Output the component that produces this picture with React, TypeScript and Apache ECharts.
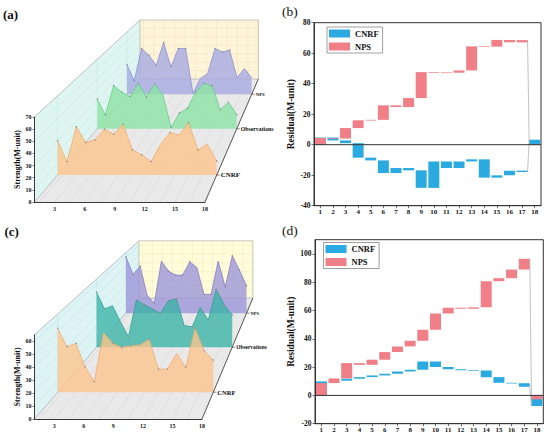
import React, { useEffect, useRef } from "react";
import * as echarts from "echarts";

const FONT = "'Liberation Serif', 'Times New Roman', serif";

// ---------- data ----------
const steps = [1, 2, 3, 4, 5, 6, 7, 8, 9, 10, 11, 12, 13, 14, 15, 16, 17, 18];
const depthLabels = ["CNRF", "Observations", "NPS"];
const ticks3D = [3, 6, 9, 12, 15, 18];
const yTicksA = [0, 10, 20, 30, 40, 50, 60, 70];
const yTicksC = [0, 10, 20, 30, 40, 50, 60];

// panel (a) strengths
const aCNRF = [30.4, 11.9, 42.8, 28.7, 31, 40.5, 36, 44.9, 22.2, 17.8, 11.9, 27.2, 37.5, 35.4, 46.3, 22.2, 27.2, 12.5];
const aObs = [29.9, 14.1, 43.5, 36.9, 32.5, 45.9, 32.2, 45.2, 34.2, 1.5, 15.8, 20.7, 37.2, 45.9, 43.4, 19.2, 26.7, 14.4];
const aNPS = [33.5, 15.1, 51.5, 43.9, 32.7, 58.2, 30.8, 51.5, 51.5, 1, 17.8, 23.4, 51.5, 47.6, 49.6, 18.5, 29, 18.5];

// panel (c) strengths
const cCNRF = [53.1, 37.8, 40.6, 21.1, 8.6, 49.4, 40.6, 37.2, 38.6, 39.2, 43.9, 19.2, 19.2, 32.2, 20.6, 53.1, 34.4, 26.7];
const cObs = [52.4, 36.5, 39.6, 24.3, 10, 45, 40.3, 36.5, 32.3, 44.1, 46, 20.5, 19.6, 37.7, 26, 55.2, 40.3, 30.7];
const cNPS = [60.4, 41.5, 50.4, 19.3, 10.4, 55.8, 45.1, 40.8, 40.8, 55, 49, 20.1, 20.1, 55.8, 28.2, 61.5, 46.1, 29.3];

// panel (b) cumulative residuals (steps 1..17) and step-18 totals
const bCNRF = [4.7, 2.8, 1.0, -8.5, -10.3, -18.6, -15.3, -16.8, -28.3, -11.0, -15.3, -11.0, -9.6, -21.6, -20.1, -17.0, -17.9];
const bCNRFTotal = 3.3;
const bNPS = [4.4, 4.0, 10.9, 16.0, 16.3, 25.8, 24.7, 30.6, 47.6, 47.4, 47.2, 48.7, 64.5, 64.3, 68.7, 67.1, 68.6];
const bNPSTotal = 0.2;

// panel (d)
const dCNRF = [9.9, 10.4, 11.8, 12.9, 14.1, 15.3, 16.9, 18.1, 24.0, 20.0, 18.4, 17.8, 17.5, 12.9, 8.9, 8.6, 6.1];
const dCNRFTotal = -7.5;
const dNPS = [8.7, 12.0, 22.8, 21.6, 25.2, 30.6, 34.6, 38.6, 46.4, 57.9, 61.9, 61.2, 62.2, 80.7, 82.8, 88.9, 96.5];
const dNPSTotal = -2.8;

const BLUE = "#2BA9E1";
const RED = "#F07F88";

// ---------- layout of the pseudo-3D panels ----------
const panelA = {
  yMax: 70,
  yTicks: yTicksA,
  vx: 344.8,
  vy: -402,
  kBack: 0.306,
  kLayers: [0.067, 0.182, 0.268],
  series: [aCNRF, aObs, aNPS],
  colors: ["#FDC48C", "#8CE4A5", "#A6AAE2"],
  lineColors: ["#EEA868", "#5DC983", "#8489CF"],
  wall: "#DFF5F1",
  wallGrid: "#BFE6DF",
  back: "#FFF4D8",
  backGrid: "#EEE0BC",
  labelSizes: [7, 5.8, 4.8],
  opacity: 0.8,
};
const panelC = {
  yMax: 65,
  yTicks: yTicksC,
  vx: 326.5,
  vy: -378,
  kBack: 0.32,
  kLayers: [0.071, 0.19, 0.28],
  series: [cCNRF, cObs, cNPS],
  colors: ["#FDC48C", "#3AB3A6", "#9A93D8"],
  lineColors: ["#EEA868", "#2A9C90", "#7C74C4"],
  wall: "#DDF3F4",
  wallGrid: "#BCE3E6",
  back: "#FFFCD9",
  backGrid: "#EEEBBE",
  labelSizes: [6.6, 5.4, 4.5],
  opacity: 0.78,
};

function render3D(api: any, cfg: any) {
  const x0 = steps[0];
  const x1 = steps[steps.length - 1];
  const c = (x: number, y: number) => api.coord([x, y]);
  const f0 = c(x0, 0);
  const f1 = c(x1, 0);
  const t0 = c(x0, cfg.yMax);
  const t1 = c(x1, cfg.yMax);
  const V = [f0[0] + cfg.vx, f0[1] + cfg.vy];
  const P = (p: number[], k: number) => [p[0] + (V[0] - p[0]) * k, p[1] + (V[1] - p[1]) * k];
  const kb = cfg.kBack;
  const ch: any[] = [];
  const poly = (pts: number[][], fill: string) => ({ type: "polygon", shape: { points: pts }, style: { fill } });
  const seg = (a: number[], b: number[], stroke: string, w: number) => ({
    type: "line",
    shape: { x1: a[0], y1: a[1], x2: b[0], y2: b[1] },
    style: { stroke, lineWidth: w },
  });

  ch.push(poly([f0, f1, P(f1, kb), P(f0, kb)], "#E9E9E9"));
  ch.push(poly([f0, t0, P(t0, kb), P(f0, kb)], cfg.wall));
  ch.push(poly([P(f0, kb), P(f1, kb), P(t1, kb), P(t0, kb)], cfg.back));

  const gx: number[] = [];
  ticks3D.forEach((t) => {
    gx.push(t - 1.5);
    gx.push(t);
  });
  gx.forEach((x) => {
    if (x <= x0 || x > x1) return;
    const p = c(x, 0);
    const q = c(x, cfg.yMax);
    ch.push(seg(p, P(p, kb), "#D3D3D3", 0.5));
    ch.push(seg(P(p, kb), P(q, kb), cfg.backGrid, 0.5));
  });
  cfg.yTicks.forEach((y: number) => {
    if (y <= 0 || y >= cfg.yMax) return;
    const p = c(x0, y);
    const q = c(x1, y);
    ch.push(seg(p, P(p, kb), cfg.wallGrid, 0.5));
    ch.push(seg(P(p, kb), P(q, kb), cfg.backGrid, 0.5));
  });
  cfg.kLayers.forEach((k: number) => ch.push(seg(P(f0, k), P(t0, k), cfg.wallGrid, 0.5)));

  ch.push(seg(t0, P(t0, kb), "#9C9C9C", 0.6));
  ch.push(seg(f0, P(f0, kb), "#9C9C9C", 0.6));
  ch.push({
    type: "polygon",
    shape: { points: [P(f0, kb), P(f1, kb), P(t1, kb), P(t0, kb)] },
    style: { fill: "none", stroke: "#A8A8A8", lineWidth: 0.6 },
  });

  for (let j = cfg.series.length - 1; j >= 0; j--) {
    const k = cfg.kLayers[j];
    const vals = cfg.series[j];
    const top = steps.map((s, i) => P(c(s, vals[i]), k));
    ch.push({
      type: "polygon",
      shape: { points: [...top, P(f1, k), P(f0, k)] },
      style: { fill: cfg.colors[j], opacity: cfg.opacity },
    });
    ch.push({
      type: "polyline",
      shape: { points: top },
      style: { stroke: cfg.lineColors[j], lineWidth: 0.7, fill: "none" },
    });
    top.forEach((p) =>
      ch.push({ type: "circle", shape: { cx: p[0], cy: p[1], r: 0.7 }, style: { fill: "#8C8C8C" } })
    );
  }

  ch.push(seg(f1, P(f1, kb), "#333", 0.8));
  cfg.kLayers.forEach((k: number, j: number) => {
    const p = P(f1, k);
    ch.push(seg(p, [p[0] + 3, p[1]], "#333", 0.6));
    ch.push({
      type: "text",
      x: p[0] + 4,
      y: p[1],
      style: {
        text: depthLabels[j],
        fontSize: cfg.labelSizes[j],
        fontFamily: FONT,
        fontWeight: "bold",
        fill: "#111",
        align: "left",
        verticalAlign: "middle",
      },
    });
  });
  return { type: "group", children: ch };
}

function waterfallSeries(name: string, color: string, cum: number[], total: number, idx: number, zeroLine: boolean) {
  const data: number[][] = [];
  let prev = 0;
  cum.forEach((v, i) => {
    data.push([i, prev, v]);
    prev = v;
  });
  data.push([cum.length, 0, total]);
  const last = data.length - 1;
  return {
    type: "custom",
    name,
    xAxisIndex: idx,
    yAxisIndex: idx,
    itemStyle: { color },
    encode: { x: 0, y: [1, 2] },
    data,
    z: zeroLine ? 4 : 3,
    renderItem: (params: any, api: any) => {
      const i = api.value(0);
      const a = api.coord([i, api.value(1)]);
      const b = api.coord([i, api.value(2)]);
      const bw = api.size([1, 0])[0] * 0.87;
      const y = Math.min(a[1], b[1]);
      const h = Math.max(Math.abs(a[1] - b[1]), 0.7);
      const children: any[] = [
        { type: "rect", shape: { x: a[0] - bw / 2, y, width: bw, height: h }, style: { fill: color } },
      ];
      if (params.dataIndex === last) {
        const p = api.coord([i - 1, cum[cum.length - 1]]);
        const q = api.coord([i, total]);
        children.push({
          type: "line",
          shape: { x1: p[0] + bw / 2, y1: p[1], x2: q[0] - bw / 2, y2: q[1] },
          style: { stroke: "#A8A8A8", lineWidth: 0.7 },
        });
      }
      if (zeroLine && params.dataIndex === last) {
        const cs = params.coordSys;
        const z = api.coord([0, 0]);
        children.push({
          type: "line",
          shape: { x1: cs.x, y1: z[1], x2: cs.x + cs.width, y2: z[1] },
          style: { stroke: "#333", lineWidth: 1 },
        });
      }
      return { type: "group", children };
    },
  };
}

const txt = { fontFamily: FONT, fontWeight: "bold" as const, color: "#111" };

function axes3D(grid: number, yMax: number) {
  return {
    x: {
      gridIndex: grid,
      type: "value",
      min: steps[0],
      max: steps[steps.length - 1],
      z: 10,
      axisLine: { show: true, onZero: false, lineStyle: { color: "#222", width: 0.9 } },
      axisTick: { show: false },
      splitLine: { show: false },
      axisLabel: { customValues: ticks3D, ...txt, fontSize: 6, margin: 4 },
    },
    y: {
      gridIndex: grid,
      type: "value",
      min: 0,
      max: yMax,
      interval: 10,
      z: 10,
      axisLine: { show: true, onZero: false, lineStyle: { color: "#222", width: 0.9 } },
      axisTick: { show: true, length: 2, lineStyle: { color: "#222", width: 0.6 } },
      splitLine: { show: false },
      axisLabel: { ...txt, fontSize: 6, margin: 3, showMaxLabel: yMax % 10 === 0 },
      name: "Strength(M-unit)",
      nameLocation: "middle",
      nameGap: 12,
      nameTextStyle: { ...txt, fontSize: 8 },
    },
  };
}

function axes2D(grid: number, min: number, max: number) {
  return {
    x: {
      gridIndex: grid,
      type: "category",
      data: steps.map(String),
      z: 10,
      axisLine: { show: true, onZero: false, lineStyle: { color: "#333", width: 1 } },
      axisTick: { show: true, alignWithLabel: true, length: 2.5, lineStyle: { color: "#333", width: 0.7 } },
      splitLine: { show: false },
      axisLabel: { interval: 0, ...txt, fontSize: 7, margin: 3 },
    },
    y: {
      gridIndex: grid,
      type: "value",
      min,
      max,
      interval: 20,
      z: 10,
      axisLine: { show: true, onZero: false, lineStyle: { color: "#333", width: 1 } },
      axisTick: { show: true, length: 2.5, lineStyle: { color: "#333", width: 0.7 } },
      splitLine: { show: false },
      axisLabel: { ...txt, fontSize: 7.5, margin: 3.5, showMaxLabel: max % 20 === 0 },
      name: "Residual(M-unit)",
      nameLocation: "middle",
      nameGap: 18,
      nameTextStyle: { ...txt, fontSize: 9.5 },
    },
  };
}

function legendAt(left: number, top: number) {
  return {
    left,
    top,
    orient: "vertical",
    icon: "rect",
    itemWidth: 21,
    itemHeight: 8,
    itemGap: 4,
    padding: [2, 4, 2, 2],
    borderColor: "#888",
    borderWidth: 0.8,
    backgroundColor: "#fff",
    textStyle: { ...txt, fontSize: 8.5 },
    data: ["CNRF", "NPS"],
    selectedMode: false,
  };
}

export default function App() {
  const ref = useRef<HTMLDivElement>(null);
  useEffect(() => {
    document.body.style.margin = "0";
    const chart = echarts.init(ref.current as HTMLDivElement, undefined, { renderer: "svg" });
    const A = axes3D(0, panelA.yMax);
    const B = axes2D(1, -40, 80);
    const C = axes3D(2, panelC.yMax);
    const D = axes2D(3, -20, 110);
    const option: any = {
      animation: false,
      backgroundColor: "#fff",
      grid: [
        { left: 34.5, top: 117, width: 170.5, height: 85 },
        { left: 314, top: 22.7, width: 227, height: 183, show: true, borderColor: "#333", borderWidth: 1, backgroundColor: "transparent" },
        { left: 34.5, top: 334.8, width: 167.5, height: 84.2 },
        { left: 315, top: 239.7, width: 228.3, height: 184, show: true, borderColor: "#333", borderWidth: 1, backgroundColor: "transparent" },
      ],
      xAxis: [A.x, B.x, C.x, D.x],
      yAxis: [A.y, B.y, C.y, D.y],
      legend: [legendAt(327, 27), legendAt(323.5, 242.5)],
      series: [
        {
          type: "custom",
          xAxisIndex: 0,
          yAxisIndex: 0,
          data: [[steps[0], 0]],
          silent: true,
          z: 1,
          renderItem: (_p: any, api: any) => render3D(api, panelA),
        },
        {
          type: "custom",
          xAxisIndex: 2,
          yAxisIndex: 2,
          data: [[steps[0], 0]],
          silent: true,
          z: 1,
          renderItem: (_p: any, api: any) => render3D(api, panelC),
        },
        waterfallSeries("CNRF", BLUE, bCNRF, bCNRFTotal, 1, false),
        waterfallSeries("NPS", RED, bNPS, bNPSTotal, 1, true),
        waterfallSeries("CNRF", BLUE, dCNRF, dCNRFTotal, 3, false),
        waterfallSeries("NPS", RED, dNPS, dNPSTotal, 3, true),
      ],
      graphic: [
        { type: "text", x: 3, y: 7.5, style: { text: "(a)", fontFamily: FONT, fontWeight: "bold", fontSize: 13, fill: "#111", verticalAlign: "top" } },
        { type: "text", x: 282, y: 4.5, style: { text: "(b)", fontFamily: FONT, fontSize: 13.5, fill: "#111", verticalAlign: "top" } },
        { type: "text", x: 4.5, y: 224.5, style: { text: "(c)", fontFamily: FONT, fontWeight: "bold", fontSize: 13, fill: "#111", verticalAlign: "top" } },
        { type: "text", x: 282, y: 223, style: { text: "(d)", fontFamily: FONT, fontSize: 13.5, fill: "#111", verticalAlign: "top" } },
      ],
    };
    chart.setOption(option);
    return () => chart.dispose();
  }, []);
  return <div ref={ref} style={{ position: "fixed", left: 0, top: 0, width: 550, height: 437 }} />;
}
